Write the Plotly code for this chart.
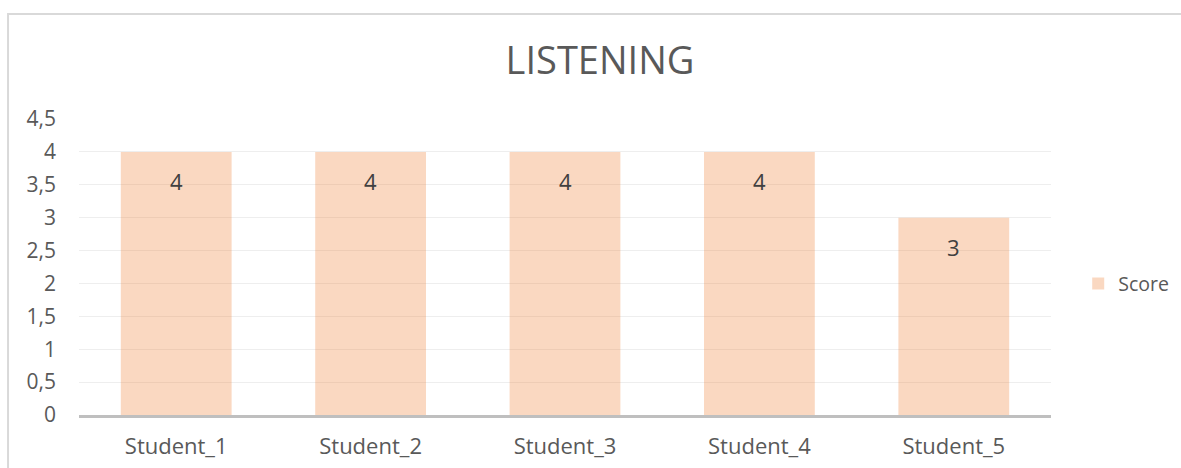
import plotly.graph_objects as go

categories = ["Student_1", "Student_2", "Student_3", "Student_4", "Student_5"]
scores = [4, 4, 4, 4, 3]
tick_vals = [0, 0.5, 1, 1.5, 2, 2.5, 3, 3.5, 4, 4.5]
tick_text = ["0", "0,5", "1", "1,5", "2", "2,5", "3", "3,5", "4", "4,5"]

FONT = "Open Sans"
GRAY = "#595959"
BAR = "rgba(237,125,49,0.3)"

fig = go.Figure()
fig.add_trace(go.Bar(
    x=categories, y=scores, name="Score",
    marker=dict(color=BAR, line=dict(width=0)),
    showlegend=True,
))

for c, v in zip(categories, scores):
    fig.add_annotation(x=c, y=v, text=str(v), showarrow=False, yshift=-29,
                       font=dict(family=FONT, size=22, color="#404040"))

fig.update_layout(
    width=1181, height=468,
    paper_bgcolor="white", plot_bgcolor="white",
    margin=dict(l=79, r=130, t=119, b=53, autoexpand=False),
    bargap=0.43,
    title=dict(text="LISTENING", x=600 / 1181, xref="container", xanchor="center",
               y=1 - 61 / 468, yref="container", yanchor="middle",
               font=dict(family=FONT, size=38, color=GRAY)),
    font=dict(family=FONT, size=22, color=GRAY),
    legend=dict(x=1.028, xanchor="left", y=0.443, yanchor="middle",
                font=dict(family=FONT, size=19.5, color=GRAY),
                itemwidth=30, bgcolor="rgba(0,0,0,0)"),
    shapes=[dict(type="rect", xref="paper", yref="paper",
                 x0=-0.073, x1=1.135, y0=-0.25, y1=1.355,
                 line=dict(color="#d9d9d9", width=2), layer="below")],
)
fig.update_yaxes(range=[0, 4.5], tickvals=tick_vals, ticktext=tick_text,
                 showgrid=True, gridcolor="#eeeeee", gridwidth=1,
                 zeroline=False, showline=False, ticks="",
                 ticklabelstandoff=22,
                 tickfont=dict(family=FONT, size=21, color=GRAY))
fig.update_xaxes(showline=True, linecolor="#bfbfbf", linewidth=2.5,
                 ticks="", showgrid=False, ticklabelstandoff=10,
                 tickfont=dict(family=FONT, size=22, color=GRAY))

fig.write_html("out.html")
